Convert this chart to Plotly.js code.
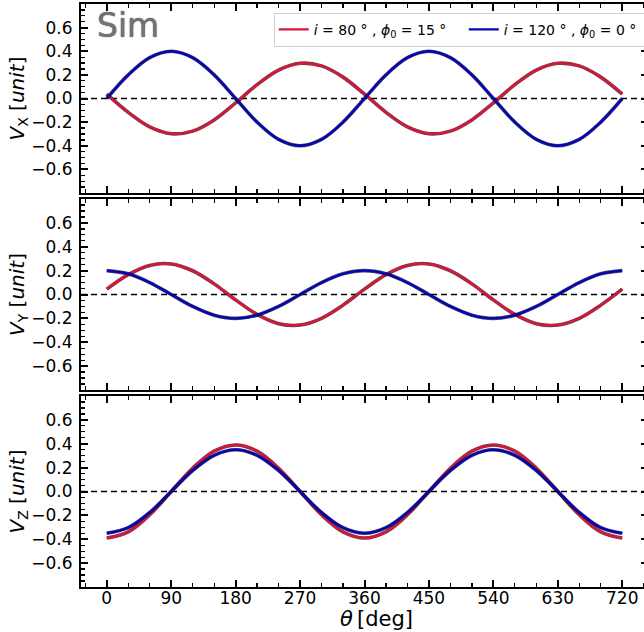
<!DOCTYPE html>
<html>
<head>
<meta charset="utf-8">
<script src="https://cdn.plot.ly/plotly-3.0.1.min.js"></script>
<style>
html,body{margin:0;padding:0;overflow:hidden;background:#fff;}
#chart{width:650px;height:632px;}
</style>
</head>
<body>
<div id="chart"></div>
<script>
// ---- data ----
const theta = [0,30,60,90,120,150,180,210,240,270,300,330,360,390,420,450,480,510,540,570,600,630,660,690,720];

const vxRed  = [0.037,-0.117,-0.240,-0.298,-0.276,-0.181,-0.037,0.117,0.240,0.298,0.276,0.181,0.037,-0.117,-0.240,-0.298,-0.276,-0.181,-0.037,0.117,0.240,0.298,0.276,0.181,0.037];
const vxBlue = [0.000,0.200,0.346,0.400,0.346,0.200,0.000,-0.200,-0.346,-0.400,-0.346,-0.200,0.000,0.200,0.346,0.400,0.346,0.200,0.000,-0.200,-0.346,-0.400,-0.346,-0.200,0.000];

const vyRed  = [0.045,0.167,0.244,0.256,0.199,0.089,-0.045,-0.167,-0.244,-0.256,-0.199,-0.089,0.045,0.167,0.244,0.256,0.199,0.089,-0.045,-0.167,-0.244,-0.256,-0.199,-0.089,0.045];
const vyBlue = [0.200,0.173,0.100,0.000,-0.100,-0.173,-0.200,-0.173,-0.100,0.000,0.100,0.173,0.200,0.173,0.100,0.000,-0.100,-0.173,-0.200,-0.173,-0.100,0.000,0.100,0.173,0.200];

const vzRed  = [-0.390,-0.338,-0.195,0.000,0.195,0.338,0.390,0.338,0.195,0.000,-0.195,-0.338,-0.390,-0.338,-0.195,0.000,0.195,0.338,0.390,0.338,0.195,0.000,-0.195,-0.338,-0.390];
const vzBlue = [-0.350,-0.303,-0.175,0.000,0.175,0.303,0.350,0.303,0.175,0.000,-0.175,-0.303,-0.350,-0.303,-0.175,0.000,0.175,0.303,0.350,0.303,0.175,0.000,-0.175,-0.303,-0.350];

const xTicks = [0,90,180,270,360,450,540,630,720];
const yTicks = [-0.6,-0.4,-0.2,0.0,0.2,0.4,0.6];
const seriesNames = ['<i>i</i> = 80 ° , <i>ϕ</i><sub>0</sub> = 15 °', '<i>i</i> = 120 ° , <i>ϕ</i><sub>0</sub> = 0 °'];
const yTitles = ['<i>V</i><sub>X</sub> [<i>unit</i>]', '<i>V</i><sub>Y</sub> [<i>unit</i>]', '<i>V</i><sub>Z</sub> [<i>unit</i>]'];
const xTitle = '<i>θ</i>\u2009[deg]';
const panelLabel = 'Sim';

// ---- styling ----
const RED = '#d4173d', BLUE = '#0505b4';
const FONT = 'DejaVu Sans, sans-serif';
const panels = [[vxRed, vxBlue], [vyRed, vyBlue], [vzRed, vzBlue]];
const traces = [];
panels.forEach((pair, k) => {
  const xa = 'x' + (k === 0 ? '' : k + 1);
  const ya = 'y' + (k === 0 ? '' : k + 1);
  [[pair[0], RED, 'rgba(70,0,10,0.75)', 0], [pair[1], BLUE, 'rgba(0,0,40,0.7)', 1]].forEach(([vals, col, edge, si]) => {
    traces.push({x: theta, y: vals, xaxis: xa, yaxis: ya, mode: 'lines',
      line: {color: edge, width: 3.6, shape: 'spline', smoothing: 1}, showlegend: false, hoverinfo: 'skip'});
    traces.push({x: theta, y: vals, xaxis: xa, yaxis: ya, mode: 'lines', name: seriesNames[si],
      legendgroup: 's' + si, showlegend: k === 0,
      line: {color: col, width: 2.4, shape: 'spline', smoothing: 1}});
  });
});

const doms = [[0.6758, 1.0], [0.3379, 0.6655], [0.0, 0.3276]];
const layout = {
  width: 650, height: 632,
  margin: {l: 81, r: 2, t: 4, b: 45, autoexpand: false},
  paper_bgcolor: '#fff', plot_bgcolor: '#fff',
  font: {family: FONT, color: '#000', size: 17},
  showlegend: true,
  legend: {orientation: 'h', x: 0.340, xanchor: 'left', y: 0.985, yanchor: 'top',
    bgcolor: '#fff', bordercolor: '#cfcfcf', borderwidth: 1,
    font: {family: FONT, size: 14, color: '#000'}, entrywidth: 145, itemwidth: 30,
    tracegroupgap: 0},
  shapes: [],
  annotations: [{text: panelLabel, xref: 'paper', yref: 'paper', x: 0.025, y: 1.0,
    xanchor: 'left', yanchor: 'top', showarrow: false,
    font: {family: FONT, size: 33, color: '#747474', shadow: '0 0 1px #333'}},
    {text: xTitle, xref: 'paper', yref: 'paper', x: 0.522, y: -0.0549,
     xanchor: 'center', yanchor: 'middle', showarrow: false, borderpad: 0,
     font: {family: FONT, size: 21, color: '#000'}}]
};

for (let k = 0; k < 3; k++) {
  const sfx = k === 0 ? '' : String(k + 1);
  layout['xaxis' + sfx] = {
    domain: [0, 1], anchor: 'y' + sfx, range: [-36, 756],
    tickvals: xTicks, ticktext: xTicks.map(String), showticklabels: k === 2,
    ticks: 'inside', ticklen: 7, tickwidth: 2, tickcolor: '#000',
    minor: {dtick: 30, tick0: 0, ticks: 'inside', ticklen: 4, tickwidth: 1.3, tickcolor: '#000'},
    showline: true, linewidth: 2, linecolor: '#000', mirror: 'allticks',
    showgrid: false, zeroline: false, ticklabelstandoff: -5,
    tickfont: {family: FONT, size: 17, color: '#000'},
    matches: k === 2 ? undefined : 'x3'
  };
  layout['yaxis' + sfx] = {
    domain: doms[k], anchor: 'x' + sfx, range: [-0.8, 0.8],
    tickvals: yTicks, tickformat: '.1f',
    ticks: 'inside', ticklen: 7, tickwidth: 2, tickcolor: '#000',
    minor: {dtick: 0.05, tick0: 0, ticks: 'inside', ticklen: 4, tickwidth: 1.3, tickcolor: '#000'},
    showline: true, linewidth: 2, linecolor: '#000', mirror: 'allticks',
    showgrid: false, zeroline: false, ticklabelstandoff: 3,
    tickfont: {family: FONT, size: 17, color: '#000'},
    title: {text: yTitles[k], font: {family: FONT, size: 20, color: '#000'}, standoff: 0}
  };
  layout.shapes.push({type: 'line', xref: 'x' + sfx + ' domain', yref: 'y' + sfx,
    x0: 0, x1: 1, y0: 0, y1: 0, layer: 'below',
    line: {color: '#000', width: 1.4, dash: '6px,4px'}});
}
// legend shadow
layout.shapes.push({type: 'rect', xref: 'paper', yref: 'paper',
  x0: 0.3457, x1: 0.991, y0: 0.938, y1: 0.981, layer: 'above',
  line: {width: 0}, fillcolor: 'rgba(0,0,0,0.25)'});

Plotly.newPlot('chart', traces, layout, {displayModeBar: false, staticPlot: true});
</script>
</body>
</html>
